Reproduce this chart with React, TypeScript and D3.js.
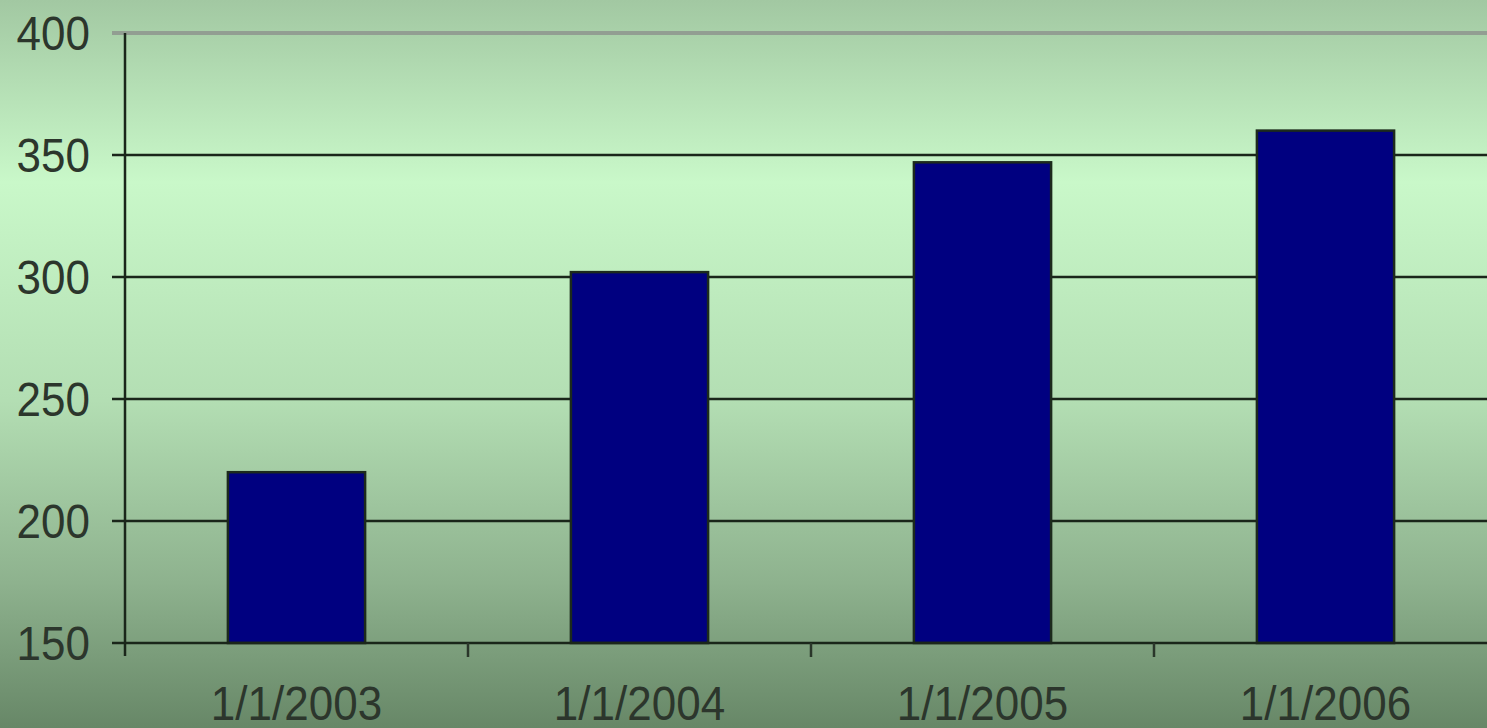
import * as d3 from "d3";
import { useEffect, useRef } from "react";

const categories = ["1/1/2003", "1/1/2004", "1/1/2005", "1/1/2006"];
const values = [220, 302, 347, 360];
const yTicks = [150, 200, 250, 300, 350, 400];

export default function App() {
  const svgRef = useRef(null);
  const width = 1487;
  const height = 728;
  const margin = { top: 33, left: 125, bottom: 85 };

  useEffect(() => {
    const svg = d3.select(svgRef.current);
    svg.selectAll("*").remove();

    const defs = svg.append("defs");
    const grad = defs
      .append("linearGradient")
      .attr("id", "bg")
      .attr("x1", 0)
      .attr("y1", 0)
      .attr("x2", 0)
      .attr("y2", 1);
    [
      [0, "#a2c8a2"],
      [0.25, "#c9f8c9"],
      [0.55, "#b3deb3"],
      [0.8, "#8eb28e"],
      [1, "#678767"],
    ].forEach(([o, c]) =>
      grad.append("stop").attr("offset", o).attr("stop-color", c),
    );

    svg
      .append("rect")
      .attr("width", width)
      .attr("height", height)
      .attr("fill", "url(#bg)");

    const y = d3
      .scaleLinear()
      .domain([150, 400])
      .range([height - margin.bottom, margin.top]);

    const x = d3
      .scaleBand()
      .domain(categories)
      .range([margin.left, margin.left + 4 * 343])
      .paddingInner(0.6)
      .paddingOuter(0.3);

    const step = x.step();
    const y0 = y(150);

    // gridlines
    svg
      .selectAll(".grid")
      .data(yTicks.filter((t) => t > 150))
      .enter()
      .append("line")
      .attr("x1", margin.left - 13)
      .attr("x2", width)
      .attr("y1", (d) => y(d))
      .attr("y2", (d) => y(d))
      .attr("stroke", (d) => (d === 400 ? "#929e92" : "#1a261a"))
      .attr("stroke-width", (d) => (d === 400 ? 4 : 2.4));

    // bars
    svg
      .selectAll(".bar")
      .data(values)
      .enter()
      .append("rect")
      .attr("x", (d, i) => x(categories[i]) || 0)
      .attr("y", (d) => y(d))
      .attr("width", x.bandwidth())
      .attr("height", (d) => y0 - y(d))
      .attr("fill", "#000080")
      .attr("stroke", "#1c2a1c")
      .attr("stroke-width", 2.5);

    // axes
    svg
      .append("line")
      .attr("x1", margin.left)
      .attr("x2", margin.left)
      .attr("y1", margin.top)
      .attr("y2", y0 + 13)
      .attr("stroke", "#1a261a")
      .attr("stroke-width", 2.5);
    svg
      .append("line")
      .attr("x1", margin.left - 13)
      .attr("x2", width)
      .attr("y1", y0)
      .attr("y2", y0)
      .attr("stroke", "#1a261a")
      .attr("stroke-width", 2.5);

    svg
      .selectAll(".xtick")
      .data(categories.slice(1))
      .enter()
      .append("line")
      .attr("x1", (d) => (x(d) || 0) - step * 0.3)
      .attr("x2", (d) => (x(d) || 0) - step * 0.3)
      .attr("y1", y0)
      .attr("y2", y0 + 14)
      .attr("stroke", "#2a362a")
      .attr("stroke-width", 2.5);

    svg
      .selectAll(".ylabel")
      .data(yTicks)
      .enter()
      .append("text")
      .attr("transform", (d) => `translate(90,${y(d) + 17}) scale(1,1.1)`)
      .attr("text-anchor", "end")
      .attr("font-family", "Liberation Sans, Arial, sans-serif")
      .attr("font-size", 44)
      .attr("fill", "#2c362c")
      .text((d) => d);

    svg
      .selectAll(".xlabel")
      .data(categories)
      .enter()
      .append("text")
      .attr(
        "transform",
        (d) => `translate(${(x(d) || 0) + x.bandwidth() / 2},720) scale(1,1.1)`,
      )
      .attr("text-anchor", "middle")
      .attr("font-family", "Liberation Sans, Arial, sans-serif")
      .attr("font-size", 44)
      .attr("fill", "#2c362c")
      .text((d) => d);
  }, []);

  return (
    <svg
      ref={svgRef}
      width={width}
      height={height}
      style={{ position: "absolute", left: 0, top: 0 }}
    ></svg>
  );
}
